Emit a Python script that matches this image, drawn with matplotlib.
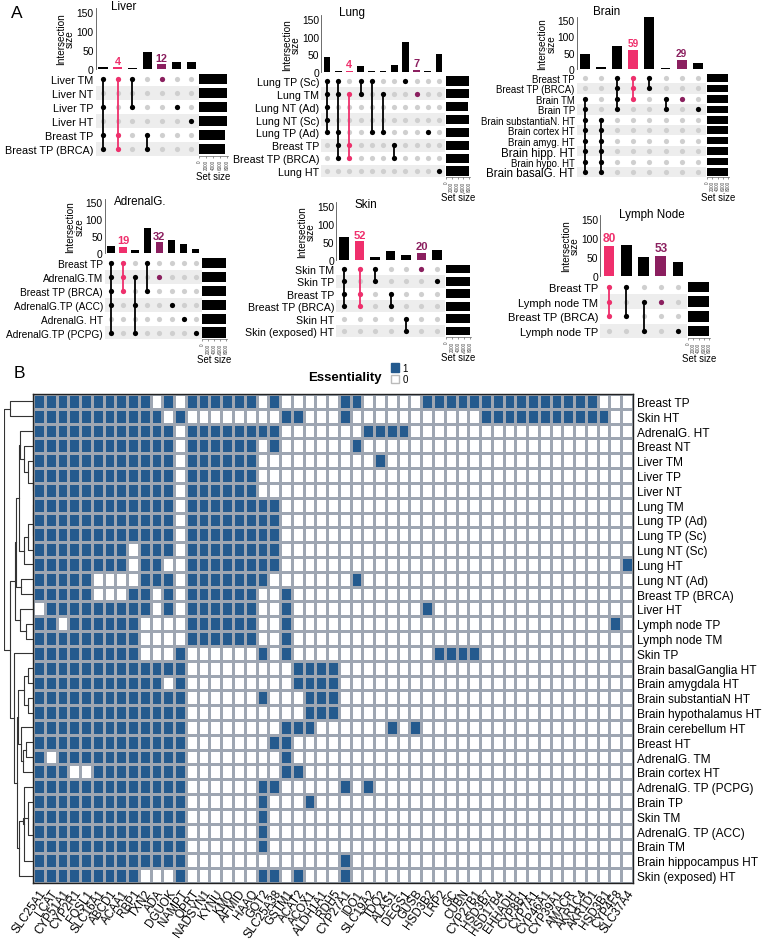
import numpy as np
import matplotlib
matplotlib.use('Agg')
import matplotlib.pyplot as plt
from matplotlib.patches import Patch
from matplotlib.colors import ListedColormap

plt.rcParams['font.family'] = ['Liberation Sans', 'DejaVu Sans']

W, H = 765, 945
fig = plt.figure(figsize=(W / 100, H / 100), dpi=100)


def rect(x0, y0, x1, y1):
    return [x0 / W, 1 - y1 / H, (x1 - x0) / W, (y1 - y0) / H]


PINK = '#EF2F6C'
PURPLE = '#8B1F5F'
GRAY = '#CFCFCF'
BAND = '#EDEDED'
BLUE = '#245A8E'

# ---------------------------------------------------------------- UpSet data
liver_sets = ['Liver TM', 'Liver NT', 'Liver TP', 'Liver HT', 'Breast TP', 'Breast TP (BRCA)']
liver_set_sizes = [8000, 8000, 8000, 8000, 7450, 7450]
liver_members = [[0, 2, 4, 5], [0, 4, 5], [0, 2], [4, 5], [0], [2], [3]]
liver_counts = [5, 4, 2, 45, 12, 19, 19]
liver_pink, liver_purple = 1, 4

lung_sets = ['Lung TP (Sc)', 'Lung TM', 'Lung NT (Ad)', 'Lung NT (Sc)', 'Lung TP (Ad)',
             'Breast TP', 'Breast TP (BRCA)', 'Lung HT']
lung_set_sizes = [8000, 8000, 7600, 8000, 8000, 8000, 8000, 7800]
lung_members = [[0, 1, 2, 3, 4], [0, 1, 4, 5, 6], [1, 5, 6], [0, 1], [0, 4], [1, 4],
                [5, 6], [0], [1], [4], [7]]
lung_counts = [42, 3, 4, 18, 3, 3, 20, 86, 7, 2, 51]
lung_pink, lung_purple = 2, 8

brain_sets = ['Breast TP', 'Breast TP (BRCA)', 'Brain TM', 'Brain TP', 'Brain substantiaN. HT',
              'Brain cortex HT', 'Brain amyg. HT', 'Brain hipp. HT', 'Brain hypo. HT',
              'Brain basalG. HT']
brain_set_sizes = [8000] * 10
brain_members = [[2, 3, 4, 5, 6, 7, 8, 9], [4, 5, 6, 7, 8, 9], [0, 1, 2, 3], [0, 1, 2],
                 [0, 1], [2, 3], [2], [3]]
brain_counts = [47, 5, 70, 59, 160, 3, 29, 17]
brain_pink, brain_purple = 3, 6

adrenal_sets = ['Breast TP', 'AdrenalG.TM', 'Breast TP (BRCA)', 'AdrenalG.TP (ACC)',
                'AdrenalG. HT', 'AdrenalG.TP (PCPG)']
adrenal_set_sizes = [8000] * 6
adrenal_members = [[0, 1, 2, 3, 5], [0, 1, 2], [1, 3, 5], [0, 2], [1], [3], [4], [5]]
adrenal_counts = [22, 19, 8, 73, 32, 37, 26, 12]
adrenal_pink, adrenal_purple = 1, 4

skin_sets = ['Skin TM', 'Skin TP', 'Breast TP', 'Breast TP (BRCA)', 'Skin HT', 'Skin (exposed) HT']
skin_set_sizes = [8000] * 6
skin_members = [[0, 1, 2, 3], [0, 2, 3], [0, 1], [2, 3], [4, 5], [0], [1]]
skin_counts = [63, 52, 7, 24, 14, 20, 28]
skin_pink, skin_purple = 1, 5

lymph_sets = ['Breast TP', 'Lymph node TM', 'Breast TP (BRCA)', 'Lymph node TP']
lymph_set_sizes = [8000] * 4
lymph_members = [[0, 1, 2], [0, 2], [1, 3], [1], [3]]
lymph_counts = [80, 82, 50, 53, 38]
lymph_pink, lymph_purple = 0, 3

# ---------------------------------------------------------------- layout (pixels)
LAYOUT = {
    'Liver': dict(cols=(103, 14.7), rows=(80, 14.0), y0=70, y150=13, ss=(199, 228),
                  title=(124, 7), fs=[7.8] * 6, cfs=7.8),
    'Lung': dict(cols=(327, 11.2), rows=(82, 12.86), y0=73, y150=20, ss=(446, 470),
                 title=(352, 13), fs=[7.7] * 8, cfs=7.8),
    'Brain': dict(cols=(585, 16.1), rows=(79, 10.44), y0=70, y150=21, ss=(707, 729),
                  title=(607, 12), fs=[6.9] * 7 + [8.3, 6.9, 8.3], cfs=7.2),
    'AdrenalG.': dict(cols=(111, 12.1), rows=(264, 13.9), y0=254, y150=203, ss=(202, 227),
                      title=(140, 202), fs=[7.3] * 6, cfs=8.0),
    'Skin': dict(cols=(344, 15.5), rows=(270, 12.4), y0=261, y150=207, ss=(446, 471),
                 title=(366, 205), fs=[7.7] * 6, cfs=8.0),
    'Lymph Node': dict(cols=(609, 17.25), rows=(288, 14.7), y0=277, y150=220, ss=(688, 710),
                       title=(652, 215), fs=[8.0] * 4, cfs=8.6),
}
YMAX = 160


def upset(name, sets, set_sizes, members, counts, pink, purple):
    L = LAYOUT[name]
    n_rows, n_cols = len(sets), len(counts)
    cx0, cdx = L['cols']
    ry0, rdy = L['rows']
    xl = cx0 - cdx / 2
    xr = cx0 + cdx * (n_cols - 0.5)
    ppu = (L['y0'] - L['y150']) / 150.0
    top = L['y0'] - YMAX * ppu
    colors = ['black'] * n_cols
    colors[pink] = PINK
    colors[purple] = PURPLE

    axb = fig.add_axes(rect(xl, top, xr, L['y0']))
    axb.bar(np.arange(n_cols), counts, width=0.62, color=colors)
    axb.set_xlim(-0.5, n_cols - 0.5)
    axb.set_ylim(0, YMAX)
    for s in ['top', 'right', 'bottom']:
        axb.spines[s].set_visible(False)
    axb.spines['left'].set_color('#555555')
    axb.spines['left'].set_linewidth(0.6)
    axb.set_xticks([])
    axb.set_yticks([0, 50, 100, 150])
    axb.tick_params(axis='y', labelsize=7.4, length=0, pad=1.5)
    axb.set_ylabel('Intersection\nsize', fontsize=7.2, linespacing=0.85, labelpad=1)
    for i, c in ((pink, PINK), (purple, PURPLE)):
        axb.text(i, counts[i] + 4, str(counts[i]), ha='center', va='bottom', color=c,
                 fontweight='bold', fontsize=L['cfs'])
    axb.patch.set_visible(False)
    fig.text(L['title'][0] / W, 1 - L['title'][1] / H, name, ha='center', va='center',
             fontsize=8.4)

    mtop = ry0 - rdy / 2
    mbot = ry0 + rdy * (n_rows - 0.5)
    axm = fig.add_axes(rect(xl, mtop, xr, mbot))
    axm.set_xlim(-0.5, n_cols - 0.5)
    axm.set_ylim(n_rows - 0.5, -0.5)
    for r in range(1, n_rows, 2):
        axm.axhspan(r - 0.5, r + 0.5, color=BAND, lw=0, zorder=0)
    xx, yy = np.meshgrid(np.arange(n_cols), np.arange(n_rows))
    axm.scatter(xx.ravel(), yy.ravel(), s=14, color=GRAY, zorder=1, lw=0)
    for c, m in enumerate(members):
        col = colors[c]
        if len(m) > 1:
            axm.plot([c, c], [min(m), max(m)], color=col, lw=1.3, zorder=2)
        axm.scatter([c] * len(m), m, s=14, color=col, zorder=3, lw=0)
    axm.set_yticks(range(n_rows))
    axm.set_yticklabels(sets)
    for lab, f in zip(axm.get_yticklabels(), L['fs']):
        lab.set_fontsize(f)
    axm.set_xticks([])
    axm.tick_params(length=0, pad=1.5)
    for s in axm.spines.values():
        s.set_visible(False)

    axs = fig.add_axes(rect(L['ss'][0], mtop, L['ss'][1], mbot))
    axs.barh(np.arange(n_rows), set_sizes, height=0.72, color='black')
    axs.set_ylim(n_rows - 0.5, -0.5)
    axs.set_xlim(0, 8300)
    axs.set_yticks([])
    axs.set_xticks([0, 2000, 4000, 6000, 8000])
    axs.set_xticklabels(['0', '2000', '4000', '6000', '8000'], rotation=90, fontsize=3.3)
    axs.tick_params(axis='x', length=1.5, width=0.4, pad=0.8, colors='#444444')
    for s in ['top', 'right', 'left']:
        axs.spines[s].set_visible(False)
    axs.spines['bottom'].set_linewidth(0.5)
    axs.spines['bottom'].set_color('#666666')
    axs.set_xlabel('Set size', fontsize=6.9, labelpad=1)
    axs.patch.set_visible(False)


upset('Liver', liver_sets, liver_set_sizes, liver_members, liver_counts, liver_pink, liver_purple)
upset('Lung', lung_sets, lung_set_sizes, lung_members, lung_counts, lung_pink, lung_purple)
upset('Brain', brain_sets, brain_set_sizes, brain_members, brain_counts, brain_pink, brain_purple)
upset('AdrenalG.', adrenal_sets, adrenal_set_sizes, adrenal_members, adrenal_counts,
      adrenal_pink, adrenal_purple)
upset('Skin', skin_sets, skin_set_sizes, skin_members, skin_counts, skin_pink, skin_purple)
upset('Lymph Node', lymph_sets, lymph_set_sizes, lymph_members, lymph_counts, lymph_pink,
      lymph_purple)

fig.text(17 / W, 1 - 13 / H, 'A', fontsize=12.5, ha='center', va='center')
fig.text(19 / W, 1 - 374 / H, 'B', fontsize=12.5, ha='center', va='center')

# ---------------------------------------------------------------- heatmap data
genes = ['SLC25A1', 'LCAT', 'CYP51A1', 'CYP2R1', 'FOSL1', 'SLC16A1', 'ABCD1', 'ACAA1', 'RBP1',
         'TXN2', 'ADA', 'DGUOK', 'NAMPT', 'QPRT', 'NADSYN1', 'KYNU', 'KMO', 'AFMID', 'HAAO',
         'GOT2', 'SLC25A38', 'GSTM1', 'ACAT2', 'ACOX1', 'ALDH1A1', 'RDH5', 'CYP27A1', 'IDO1',
         'SLC19A2', 'TDO2', 'ALAS1', 'DEGS1', 'GUSB', 'HSD3B2', 'LRP2', 'GC', 'CUBN',
         'CYP27B1', 'HSD3B7', 'HSD17B4', 'EHHADH', 'CYP8B1', 'CYP7A1', 'CYP46A1', 'CYP39A1',
         'AMACR', 'AKR1C4', 'AKR1D1', 'HSD3B1', 'CYP4F8', 'SLC37A4']

samples = ['Breast TP', 'Skin HT', 'AdrenalG. HT', 'Breast NT', 'Liver TM', 'Liver TP',
           'Liver NT', 'Lung TM', 'Lung TP (Ad)', 'Lung TP (Sc)', 'Lung NT (Sc)', 'Lung HT',
           'Lung NT (Ad)', 'Breast TP (BRCA)', 'Liver HT', 'Lymph node TP', 'Lymph node TM',
           'Skin TP', 'Brain basalGanglia HT', 'Brain amygdala HT', 'Brain substantiaN HT',
           'Brain hypothalamus HT', 'Brain cerebellum HT', 'Breast HT', 'AdrenalG. TM',
           'Brain cortex HT', 'AdrenalG. TP (PCPG)', 'Brain TP', 'Skin TM',
           'AdrenalG. TP (ACC)', 'Brain TM', 'Brain hippocampus HT', 'Skin (exposed) HT']

# essential genes (column indices) for each sample
essential = ['0-9,11,13-18,20,26-27,33-47',
             '0-10,12,21-22,26,38-48',
             '0-11,13-20,28-31',
             '0-11,13-18,20,27',
             '0-11,13-18,29',
             '0-11,13-18',
             '0-11,13-18',
             '0-11,13-20',
             '0-11,13-20',
             '0-11,13-20',
             '0-7,9-11,13-20',
             '0-7,9-10,13-20,50',
             '0-4,9-11,13-19,27',
             '0-4,8-9,11,13-18,21',
             '1-9,11,13-18,21,33',
             '0-1,3-8,13-18,21,49',
             '0-8,13-18,21',
             '0-8,12,19,21,34-37',
             '0-12,22-25',
             '0-10,12,22-25',
             '0-12,19,23-25',
             '0-12,23-25',
             '0-12,21-23,30,32',
             '0-12,20-21',
             '0,2-12,21',
             '0-2,5-12,21-22',
             '0-12,19-20,26,28',
             '0-12,19,23',
             '0-12,19',
             '0-12,19',
             '0-12,19',
             '0-12,26',
             '0-8,12,19-20,22,26']


def parse(spec, n):
    v = np.zeros(n)
    for part in spec.split(','):
        if '-' in part:
            a, b = part.split('-')
            v[int(a):int(b) + 1] = 1
        else:
            v[int(part)] = 1
    return v


M = np.array([parse(s, len(genes)) for s in essential])


def complete_linkage(X):
    """Hierarchical clustering (complete linkage, Euclidean) -> nested (left, right, height)."""
    D = np.sqrt(((X[:, None, :] - X[None, :, :]) ** 2).sum(-1))
    members = {i: [i] for i in range(len(X))}
    nodes = {i: i for i in range(len(X))}
    active = list(range(len(X)))
    nid = len(X)
    while len(active) > 1:
        best = None
        for a in range(len(active)):
            for b in range(a + 1, len(active)):
                ca, cb = active[a], active[b]
                d = D[np.ix_(members[ca], members[cb])].max()
                if best is None or d < best[0] - 1e-9:
                    best = (d, ca, cb)
        d, ca, cb = best
        members[nid] = members[ca] + members[cb]
        nodes[nid] = (nodes[ca], nodes[cb], d)
        active.remove(ca)
        active.remove(cb)
        active.append(nid)
        nid += 1
    return nodes[active[0]]


row_tree = complete_linkage(M)

HX0, HX1, HY0, HY1 = 33, 633, 395, 884
axh = fig.add_axes(rect(HX0, HY0, HX1, HY1))
axh.pcolormesh(np.arange(len(genes) + 1), np.arange(len(samples) + 1), M,
               cmap=ListedColormap(['white', BLUE]), vmin=0, vmax=1,
               edgecolors='#9EA6B2', linewidth=0.8)
axh.set_xlim(0, len(genes))
axh.set_ylim(len(samples), 0)
axh.set_xticks(np.arange(len(genes)) + 0.5)
axh.set_xticklabels(genes, rotation=55, ha='right', rotation_mode='anchor', fontsize=8.4)
axh.yaxis.tick_right()
axh.set_yticks(np.arange(len(samples)) + 0.5)
axh.set_yticklabels(samples, fontsize=8.6)
axh.tick_params(length=0, pad=3)
for s in axh.spines.values():
    s.set_linewidth(1.0)
    s.set_color('#222222')

# dendrogram (leaves placed in the displayed row order)
axd = fig.add_axes(rect(4, HY0, HX0, HY1))


def draw(node):
    if not isinstance(node, tuple):
        return node + 0.5, 0.0
    l, r, h = node
    yl, hl = draw(l)
    yr, hr = draw(r)
    axd.plot([hl, h, h, hr], [yl, yl, yr, yr], color='#333333', lw=0.8)
    return (yl + yr) / 2, h


draw(row_tree)
axd.set_xlim(row_tree[2], 0)
axd.set_ylim(len(samples), 0)
axd.axis('off')

fig.text(345 / W, 1 - 378 / H, 'Essentiality', fontsize=9.5, fontweight='bold',
         ha='center', va='center')
fig.legend(handles=[Patch(facecolor=BLUE, edgecolor=BLUE),
                    Patch(facecolor='white', edgecolor='#BBBBBB')],
           labels=['1', '0'], loc='upper left', bbox_to_anchor=(391 / W, 1 - 364 / H),
           frameon=False, handlelength=0.85, handleheight=0.95, fontsize=7,
           labelspacing=0.15, handletextpad=0.3, borderaxespad=0, borderpad=0)

fig.savefig('out.png', dpi=100)
